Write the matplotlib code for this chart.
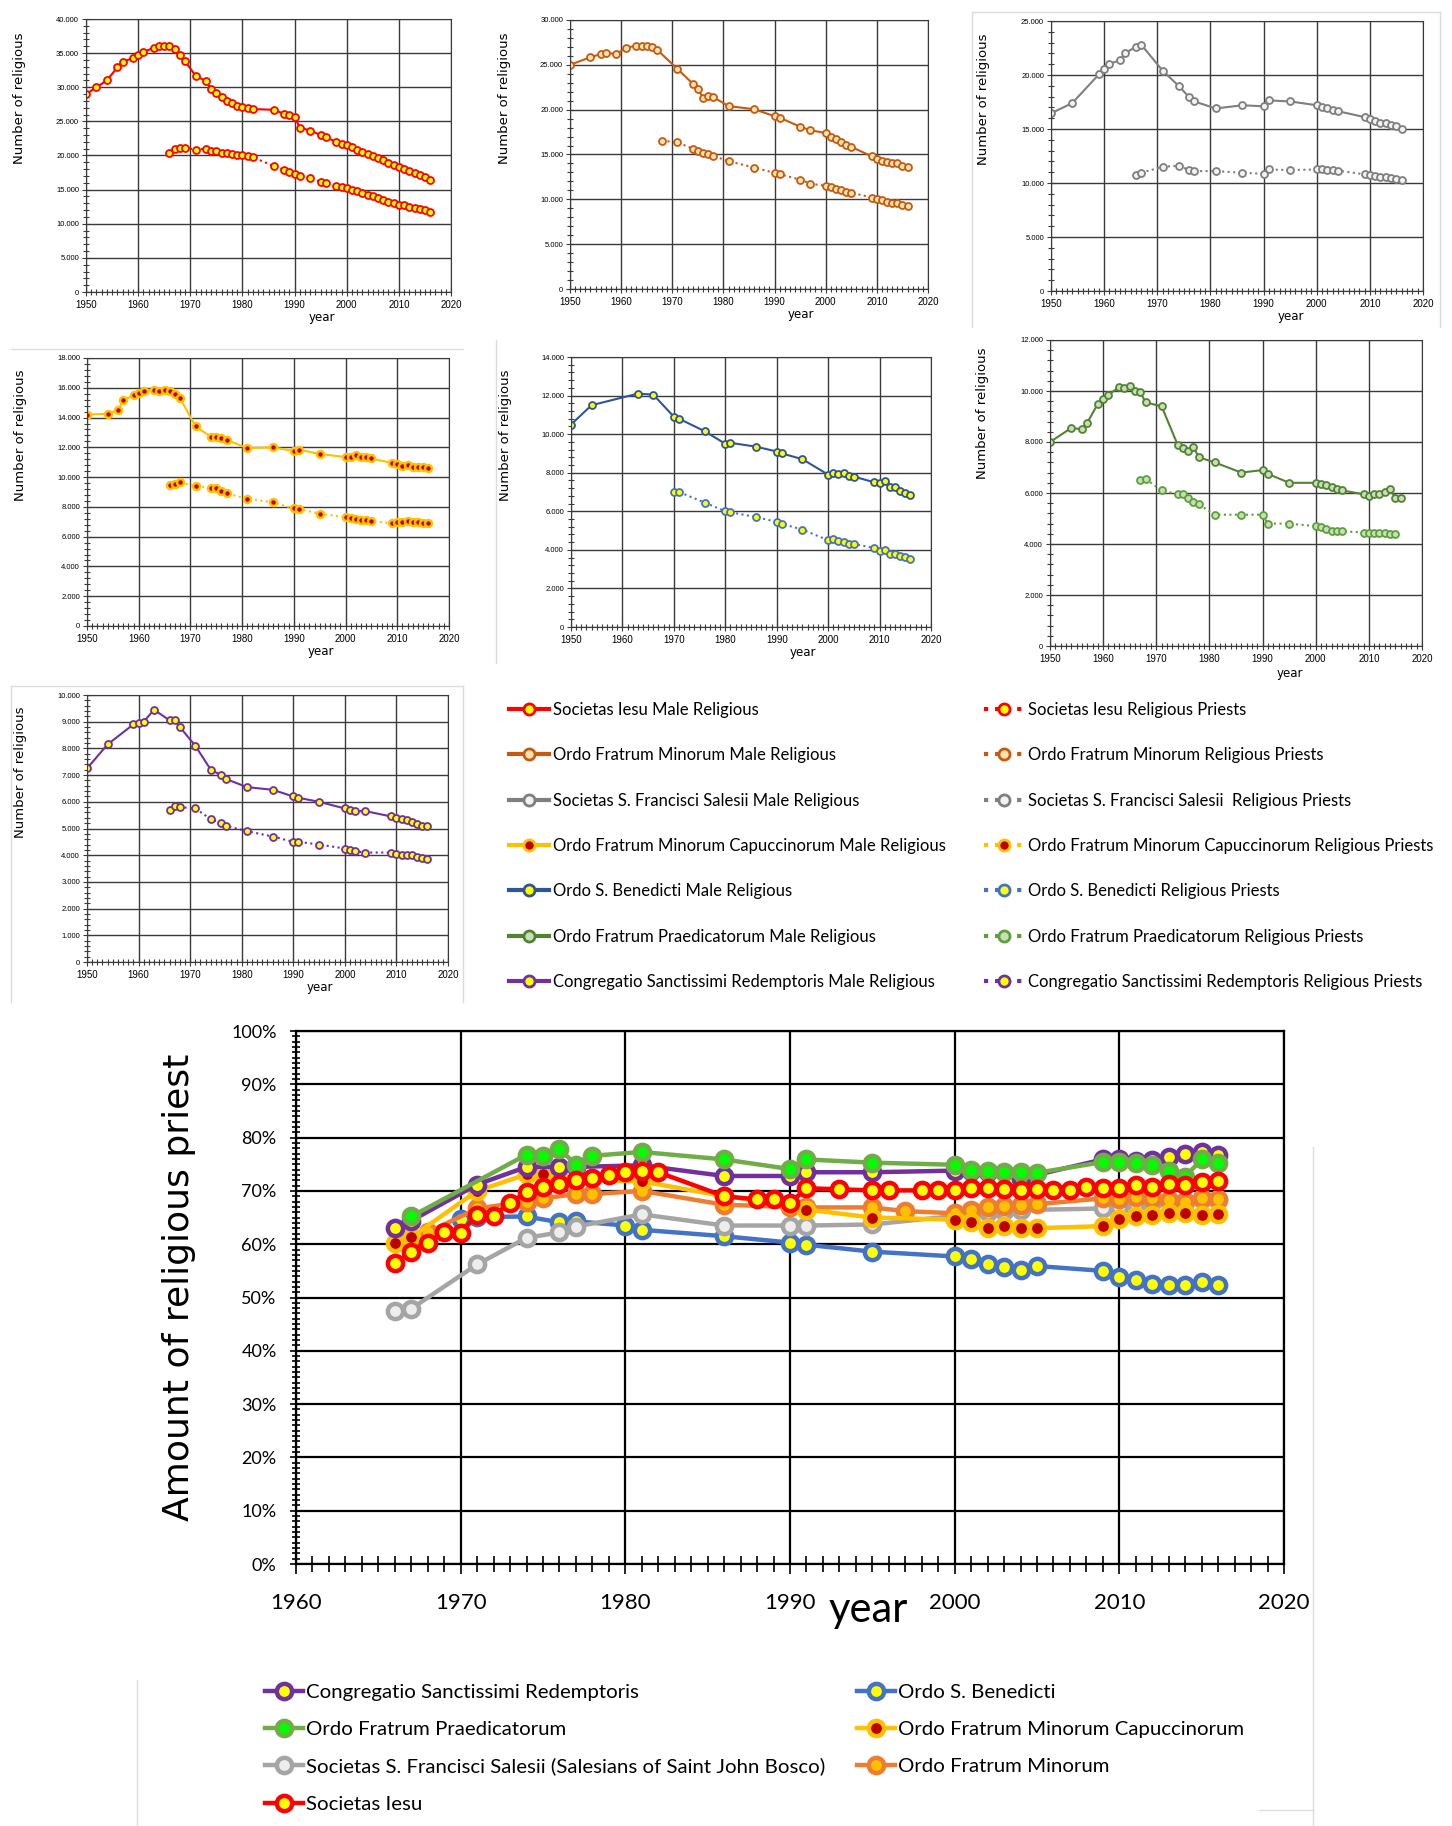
import matplotlib
matplotlib.use('Agg')
import matplotlib.pyplot as plt
from matplotlib.lines import Line2D
from matplotlib.ticker import MultipleLocator, FuncFormatter

# ---------------- data: number of religious (small panels) ----------------
sj_male_years = [1950, 1952, 1954, 1956, 1957, 1959, 1960, 1961, 1963, 1964, 1965, 1966, 1967, 1968, 1969,
                 1971, 1973, 1974, 1975, 1976, 1977, 1978, 1979, 1980, 1981, 1982, 1986, 1988, 1989, 1990,
                 1991, 1993, 1995, 1996, 1998, 1999, 2000, 2001, 2002, 2003, 2004, 2005, 2006, 2007, 2008,
                 2009, 2010, 2011, 2012, 2013, 2014, 2015, 2016]
sj_male = [29000, 30000, 31000, 32900, 33700, 34300, 34750, 35150, 35800, 36000, 36050, 36050, 35600, 34750, 33800,
           31700, 30900, 29700, 29100, 28500, 28000, 27700, 27250, 27100, 26950, 26800, 26700, 26100, 25900, 25650,
           24100, 23650, 23000, 22650, 22000, 21700, 21600, 21250, 20850, 20500, 20250, 19900, 19650, 19300, 18850,
           18650, 18250, 17950, 17700, 17400, 17150, 16900, 16450]
sj_priest_years = [1966, 1967, 1968, 1969, 1971, 1973, 1974, 1975, 1976, 1977, 1978, 1979, 1980, 1981, 1982,
                   1986, 1988, 1989, 1990, 1991, 1993, 1995, 1996, 1998, 1999, 2000, 2001, 2002, 2003, 2004,
                   2005, 2006, 2007, 2008, 2009, 2010, 2011, 2012, 2013, 2014, 2015, 2016]
sj_priest = [20350, 20950, 21100, 21150, 20850, 21000, 20700, 20600, 20400, 20300, 20200, 20000, 20000, 19900, 19750,
             18450, 17900, 17650, 17350, 17050, 16700, 16150, 15900, 15550, 15350, 15200, 15000, 14750, 14450, 14250,
             14050, 13800, 13500, 13250, 13100, 12800, 12700, 12500, 12300, 12150, 12000, 11750]

ofm_male_years = [1950, 1954, 1956, 1957, 1959, 1961, 1963, 1964, 1965, 1966, 1967, 1971, 1974, 1975, 1976,
                  1977, 1978, 1981, 1986, 1990, 1991, 1995, 1997, 2000, 2001, 2002, 2003, 2004, 2005, 2009,
                  2010, 2011, 2012, 2013, 2014, 2015, 2016]
ofm_male = [25000, 25850, 26200, 26350, 26200, 26900, 27150, 27150, 27050, 26950, 26700, 24550, 22900, 22300, 21350,
            21550, 21400, 20400, 20050, 19270, 19100, 18100, 17700, 17400, 17000, 16700, 16350, 16100, 15850, 14800,
            14550, 14300, 14200, 14100, 14100, 13700, 13600]
ofm_priest_years = [1968, 1971, 1974, 1975, 1976, 1977, 1978, 1981, 1986, 1990, 1991, 1995, 1997, 2000, 2001,
                    2002, 2003, 2004, 2005, 2009, 2010, 2011, 2012, 2013, 2014, 2015, 2016]
ofm_priest = [16550, 16350, 15650, 15350, 15200, 15050, 14850, 14250, 13550, 12950, 12800, 12200, 11750, 11500, 11350,
              11200, 11000, 10850, 10750, 10200, 10050, 9900, 9750, 9600, 9550, 9400, 9300]

sdb_male_years = [1950, 1954, 1959, 1960, 1961, 1963, 1964, 1966, 1967, 1971, 1974, 1976, 1977, 1981, 1986,
                  1990, 1991, 1995, 2000, 2001, 2002, 2003, 2004, 2009, 2010, 2011, 2012, 2013, 2014, 2015, 2016]
sdb_male = [16450, 17400, 20050, 20550, 21050, 21350, 22050, 22600, 22800, 20400, 19000, 17950, 17550, 16900, 17200,
            17100, 17650, 17550, 17200, 17050, 16900, 16800, 16650, 16100, 15900, 15750, 15600, 15550, 15350, 15300, 15000]
sdb_priest_years = [1966, 1967, 1971, 1974, 1976, 1977, 1981, 1986, 1990, 1991, 1995, 2000, 2001, 2002, 2003,
                    2004, 2009, 2010, 2011, 2012, 2013, 2014, 2015, 2016]
sdb_priest = [10750, 10950, 11500, 11600, 11200, 11100, 11100, 10950, 10850, 11250, 11200, 11250, 11250, 11200, 11200,
              11150, 10800, 10700, 10650, 10600, 10550, 10500, 10400, 10300]

cap_male_years = [1950, 1954, 1956, 1957, 1959, 1960, 1961, 1963, 1964, 1965, 1966, 1967, 1968, 1971, 1974,
                  1975, 1976, 1977, 1981, 1986, 1990, 1991, 1995, 2000, 2001, 2002, 2003, 2004, 2005, 2009,
                  2010, 2011, 2012, 2013, 2014, 2015, 2016]
cap_male = [14200, 14250, 14500, 15150, 15500, 15650, 15750, 15850, 15750, 15850, 15750, 15600, 15300, 13400, 12700,
            12700, 12650, 12500, 11950, 12000, 11750, 11850, 11550, 11350, 11350, 11500, 11350, 11350, 11250, 10950,
            10850, 10750, 10800, 10700, 10650, 10650, 10600]
cap_priest_years = [1966, 1967, 1968, 1971, 1974, 1975, 1976, 1977, 1981, 1986, 1990, 1991, 1995, 2000, 2001,
                    2002, 2003, 2004, 2005, 2009, 2010, 2011, 2012, 2013, 2014, 2015, 2016]
cap_priest = [9500, 9550, 9650, 9400, 9300, 9300, 9050, 8900, 8550, 8300, 7900, 7850, 7550, 7300, 7250,
              7200, 7150, 7100, 7050, 6900, 7000, 7000, 7050, 7000, 7000, 6950, 6950]

osb_male_years = [1950, 1954, 1963, 1966, 1970, 1971, 1976, 1980, 1981, 1986, 1990, 1991, 1995, 2000, 2001,
                  2002, 2003, 2004, 2005, 2009, 2010, 2011, 2012, 2013, 2014, 2015, 2016]
osb_male = [10500, 11500, 12100, 12050, 10900, 10800, 10150, 9500, 9550, 9350, 9100, 9000, 8700, 7900, 8000,
            7950, 8000, 7850, 7800, 7500, 7450, 7550, 7250, 7250, 7050, 6950, 6850]
osb_priest_years = [1970, 1971, 1976, 1980, 1981, 1986, 1990, 1991, 1995, 2000, 2001, 2002, 2003, 2004, 2005,
                    2009, 2010, 2011, 2012, 2013, 2014, 2015, 2016]
osb_priest = [7000, 7000, 6450, 6000, 5950, 5700, 5450, 5350, 5050, 4500, 4550, 4450, 4400, 4300, 4300,
              4100, 3950, 4000, 3800, 3800, 3700, 3650, 3550]

op_male_years = [1950, 1954, 1956, 1957, 1959, 1960, 1961, 1963, 1964, 1965, 1966, 1967, 1968, 1971, 1974,
                 1975, 1976, 1977, 1978, 1981, 1986, 1990, 1991, 1995, 2000, 2001, 2002, 2003, 2004, 2005,
                 2009, 2010, 2011, 2012, 2013, 2014, 2015, 2016]
op_male = [8000, 8550, 8500, 8750, 9500, 9700, 9850, 10150, 10100, 10200, 10000, 9950, 9550, 9400, 7900,
           7750, 7650, 7800, 7400, 7200, 6800, 6900, 6750, 6400, 6400, 6350, 6300, 6250, 6150, 6100,
           5950, 5900, 5950, 5950, 6050, 6150, 5800, 5800]
op_priest_years = [1967, 1968, 1971, 1974, 1975, 1976, 1977, 1978, 1981, 1986, 1990, 1991, 1995, 2000, 2001,
                   2002, 2003, 2004, 2005, 2009, 2010, 2011, 2012, 2013, 2014, 2015]
op_priest = [6500, 6550, 6100, 5950, 5950, 5800, 5650, 5550, 5150, 5150, 5150, 4800, 4800, 4700, 4650,
             4600, 4500, 4500, 4500, 4450, 4450, 4450, 4450, 4450, 4400, 4400]

cssr_male_years = [1950, 1954, 1959, 1960, 1961, 1963, 1966, 1967, 1968, 1971, 1974, 1976, 1977, 1981, 1986,
                   1990, 1991, 1995, 2000, 2001, 2002, 2004, 2009, 2010, 2011, 2012, 2013, 2014, 2015, 2016]
cssr_male = [7250, 8150, 8900, 8950, 9000, 9450, 9050, 9080, 8800, 8100, 7200, 7000, 6850, 6550, 6450,
             6200, 6150, 6000, 5750, 5700, 5650, 5650, 5450, 5400, 5350, 5300, 5250, 5150, 5100, 5100]
cssr_priest_years = [1966, 1967, 1968, 1971, 1974, 1976, 1977, 1981, 1986, 1990, 1991, 1995, 2000, 2001, 2002,
                     2004, 2009, 2010, 2011, 2012, 2013, 2014, 2015, 2016]
cssr_priest = [5700, 5850, 5800, 5750, 5350, 5200, 5100, 4900, 4700, 4500, 4500, 4400, 4250, 4200, 4150,
               4100, 4100, 4050, 4000, 4000, 4000, 3950, 3900, 3850]

# ---------------- data: share of priests (%) in the big chart ----------------
r_sj_years = [1966, 1967, 1968, 1969, 1970, 1971, 1972, 1973, 1974, 1975, 1976, 1977, 1978, 1979, 1980,
              1981, 1982, 1986, 1988, 1989, 1990, 1991, 1993, 1995, 1996, 1998, 1999, 2000, 2001, 2002,
              2003, 2004, 2005, 2006, 2007, 2008, 2009, 2010, 2011, 2012, 2013, 2014, 2015, 2016]
r_sj = [56.5, 58.5, 60.3, 62.2, 62.1, 65.5, 65.3, 67.8, 69.7, 70.7, 71.3, 72.0, 72.5, 73.0, 73.5,
        73.7, 73.5, 69.0, 68.4, 68.4, 67.7, 70.5, 70.3, 70.1, 70.1, 70.1, 70.1, 70.1, 70.6, 70.5,
        70.3, 70.1, 70.4, 70.1, 70.1, 70.7, 70.5, 70.5, 71.1, 70.8, 71.3, 71.2, 71.6, 71.9]
r_op_years = [1967, 1974, 1975, 1976, 1977, 1978, 1981, 1986, 1990, 1991, 1995, 2000, 2001, 2002, 2003,
              2004, 2005, 2009, 2010, 2011, 2012, 2013, 2014, 2015, 2016]
r_op = [65.2, 76.8, 76.6, 77.9, 74.9, 76.6, 77.3, 75.9, 74.1, 75.9, 75.3, 74.9, 74.0, 73.7, 73.5,
        73.5, 73.4, 75.4, 75.4, 75.3, 74.9, 73.7, 72.7, 75.9, 75.3]
r_cssr_years = [1966, 1967, 1971, 1974, 1976, 1977, 1981, 1986, 1990, 1991, 1995, 2000, 2001, 2002, 2004,
                2009, 2010, 2011, 2012, 2013, 2014, 2015, 2016]
r_cssr = [63.1, 64.4, 71.2, 74.5, 74.5, 74.5, 74.8, 72.8, 72.8, 73.5, 73.5, 73.8, 73.7, 73.5, 72.3,
          75.9, 75.9, 75.6, 75.8, 76.4, 76.9, 77.3, 76.7]
r_cap_years = [1966, 1967, 1971, 1974, 1975, 1976, 1977, 1981, 1986, 1990, 1991, 1995, 2000, 2001, 2002,
               2003, 2004, 2005, 2009, 2010, 2011, 2012, 2013, 2014, 2015, 2016]
r_cap = [60.3, 61.3, 70.0, 73.1, 73.1, 72.3, 72.0, 71.8, 69.0, 67.5, 66.5, 65.0, 64.6, 64.2, 63.0,
         63.4, 63.0, 63.0, 63.4, 64.7, 65.2, 65.5, 65.8, 65.9, 65.5, 65.7]
r_ofm_years = [1968, 1971, 1974, 1975, 1977, 1978, 1981, 1986, 1990, 1991, 1995, 1997, 2000, 2001, 2002,
               2003, 2004, 2005, 2009, 2010, 2011, 2012, 2013, 2014, 2015, 2016]
r_ofm = [62.2, 66.7, 68.0, 68.6, 69.4, 69.4, 70.0, 67.4, 67.0, 66.9, 66.9, 66.2, 65.8, 66.5, 66.9,
         67.2, 67.3, 67.5, 68.6, 68.5, 68.8, 68.7, 68.3, 68.0, 68.7, 68.5]
r_sdb_years = [1966, 1967, 1971, 1974, 1976, 1977, 1981, 1986, 1990, 1991, 1995, 2000, 2001, 2002, 2003,
               2004, 2009, 2010, 2011, 2012, 2013, 2014, 2015, 2016]
r_sdb = [47.5, 47.9, 56.2, 61.2, 62.2, 63.3, 65.6, 63.5, 63.5, 63.5, 63.7, 65.3, 65.8, 66.1, 66.2,
         66.4, 66.7, 67.0, 67.5, 67.9, 68.1, 68.1, 68.4, 68.3]
r_osb_years = [1970, 1971, 1974, 1976, 1977, 1980, 1981, 1986, 1990, 1991, 1995, 2000, 2001, 2002, 2003,
               2004, 2005, 2009, 2010, 2011, 2012, 2013, 2014, 2015, 2016]
r_osb = [64.7, 65.1, 65.2, 64.1, 64.3, 63.5, 62.7, 61.5, 60.3, 59.9, 58.6, 57.7, 57.2, 56.3, 55.7,
         55.1, 55.9, 55.0, 53.9, 53.3, 52.6, 52.4, 52.4, 52.9, 52.4]

# ---------------- styles ----------------
W, H = 1452, 1826
CAL = ['Lato', 'DejaVu Sans']


def box(x0, y0, x1, y1):
    # pixel box (top-left origin) -> figure fraction rect
    return [x0 / W, 1 - y1 / H, (x1 - x0) / W, (y1 - y0) / H]


def sty(line, face, edge=None, ls='-', lw=1.5, ms=5, mew=1.3):
    return dict(color=line, ls=ls, lw=lw, marker='o', ms=ms, mfc=face, mec=edge or line, mew=mew)


s_sj_m = sty('#FF0000', '#FFFF00')
s_sj_p = sty('#FF0000', '#FFFF00', ls=':')
s_ofm_m = sty('#C55A11', '#FCE4B0')
s_ofm_p = sty('#C55A11', '#FCE4B0', ls=':')
s_sdb_m = sty('#7F7F7F', '#F2F2F2')
s_sdb_p = sty('#7F7F7F', '#F2F2F2', ls=':')
s_cap_m = sty('#FFC000', '#C00000', mew=1.8)
s_cap_p = sty('#FFC000', '#C00000', ls=':', mew=1.8)
s_osb_m = sty('#2F5597', '#FFFF00')
s_osb_p = sty('#4472C4', '#FFFF00', ls=':')
s_op_m = sty('#548235', '#C5E0B4')
s_op_p = sty('#5E9E3C', '#C5E0B4', ls=':')
s_cssr_m = sty('#7030A0', '#FFFF00')
s_cssr_p = sty('#7030A0', '#FFFF00', ls=':')

thousands = FuncFormatter(lambda v, p: f'{int(v):,}'.replace(',', '.'))

fig = plt.figure(figsize=(W / 100, H / 100), dpi=100)
fig.patch.set_facecolor('white')


def panel(rect, mx, my, px, py, sm, sp, ymax, ymaj, ymin, lab_y=0.71):
    ax = fig.add_axes(box(*rect))
    ax.plot(mx, my, **sm)
    ax.plot(px, py, **sp)
    ax.set_xlim(1950, 2020)
    ax.set_ylim(0, ymax)
    ax.xaxis.set_major_locator(MultipleLocator(10))
    ax.xaxis.set_minor_locator(MultipleLocator(1))
    ax.yaxis.set_major_locator(MultipleLocator(ymaj))
    ax.yaxis.set_minor_locator(MultipleLocator(ymin))
    ax.yaxis.set_major_formatter(thousands)
    ax.grid(which='major', color='#3a3a3a', lw=1.0)
    ax.set_axisbelow(True)
    for sp_ in ax.spines.values():
        sp_.set_color('#3a3a3a')
    ax.tick_params(which='both', direction='inout', color='#3a3a3a', width=0.8)
    ax.tick_params(which='major', length=6)
    ax.tick_params(which='minor', length=5)
    ax.tick_params(axis='x', labelsize=7, pad=3)
    ax.tick_params(axis='y', labelsize=5.5, pad=2)
    for t in ax.get_xticklabels() + ax.get_yticklabels():
        t.set_family('Liberation Sans')
    ax.set_ylabel('Number of religious', fontsize=9.5, family='DejaVu Sans')
    ax.yaxis.set_label_coords(-0.165, lab_y)
    ax.set_xlabel('year', fontsize=8.5, family='DejaVu Sans')
    ax.xaxis.set_label_coords(0.645, -0.07)
    return ax


panel((86, 19, 451, 292), sj_male_years, sj_male, sj_priest_years, sj_priest, s_sj_m, s_sj_p, 40000, 5000, 1000)
panel((570, 20, 928, 289), ofm_male_years, ofm_male, ofm_priest_years, ofm_priest, s_ofm_m, s_ofm_p, 30000, 5000, 1000)
panel((1051, 21, 1423, 291), sdb_male_years, sdb_male, sdb_priest_years, sdb_priest, s_sdb_m, s_sdb_p, 25000, 5000, 1000)
panel((87, 358, 449, 626), cap_male_years, cap_male, cap_priest_years, cap_priest, s_cap_m, s_cap_p, 18000, 2000, 400)
panel((571, 357, 931, 627), osb_male_years, osb_male, osb_priest_years, osb_priest, s_osb_m, s_osb_p, 14000, 2000, 400)
panel((1050, 340, 1422, 646), op_male_years, op_male, op_priest_years, op_priest, s_op_m, s_op_p, 12000, 2000, 400, 0.76)
panel((87, 695, 448, 962), cssr_male_years, cssr_male, cssr_priest_years, cssr_priest, s_cssr_m, s_cssr_p, 10000, 1000, 200)

# ---------------- legend for the small panels ----------------
orders = ['Societas Iesu', 'Ordo Fratrum Minorum', 'Societas S. Francisci Salesii',
          'Ordo Fratrum Minorum Capuccinorum', 'Ordo S. Benedicti', 'Ordo Fratrum Praedicatorum',
          'Congregatio Sanctissimi Redemptoris']
male_styles = [s_sj_m, s_ofm_m, s_sdb_m, s_cap_m, s_osb_m, s_op_m, s_cssr_m]
priest_styles = [s_sj_p, s_ofm_p, s_sdb_p, s_cap_p, s_osb_p, s_op_p, s_cssr_p]


def leg_handle(s, lw, ms, mew):
    d = dict(s)
    d.update(lw=lw, ms=ms, mew=mew)
    return Line2D([], [], **d)


h_m = [leg_handle(s, 3, 8, 2) for s in male_styles]
h_p = [leg_handle(s, 3, 8, 2) for s in priest_styles]
l_m = [o + ' Male Religious' for o in orders]
l_p = [o + ' Religious Priests' for o in orders]
l_p[2] = 'Societas S. Francisci Salesii  Religious Priests'

for hs, ls_, x0 in [(h_m, l_m, 509), (h_p, l_p, 984)]:
    fig.legend(hs, ls_, loc='upper left', bbox_to_anchor=(x0 / W, 1 - 702 / H),
               frameon=False, ncol=1, borderpad=0, borderaxespad=0, handlelength=2.4,
               handletextpad=0.25, labelspacing=1.76, prop={'family': CAL, 'size': 12})

# ---------------- big chart: share of priests ----------------
ax = fig.add_axes(box(296, 1031, 1284, 1564))
big = [
    ('Ordo S. Benedicti', r_osb_years, r_osb, '#4472C4', '#FFFF00'),
    ('Societas S. Francisci Salesii (Salesians of Saint John Bosco)', r_sdb_years, r_sdb, '#A5A5A5', '#EDEDED'),
    ('Ordo Fratrum Minorum', r_ofm_years, r_ofm, '#ED7D31', '#FFC000'),
    ('Ordo Fratrum Minorum Capuccinorum', r_cap_years, r_cap, '#FFC000', '#C00000'),
    ('Congregatio Sanctissimi Redemptoris', r_cssr_years, r_cssr, '#7030A0', '#FFFF00'),
    ('Ordo Fratrum Praedicatorum', r_op_years, r_op, '#70AD47', '#00FF00'),
    ('Societas Iesu', r_sj_years, r_sj, '#FF0000', '#FFFF00'),
]
handles = {}
for name, xs, ys, c, f in big:
    handles[name], = ax.plot(xs, ys, color=c, lw=3.2, marker='o', ms=11, mfc=f, mec=c, mew=3.2)

ax.set_xlim(1960, 2020)
ax.set_ylim(0, 100)
ax.xaxis.set_major_locator(MultipleLocator(10))
ax.xaxis.set_minor_locator(MultipleLocator(1))
ax.yaxis.set_major_locator(MultipleLocator(10))
ax.yaxis.set_minor_locator(MultipleLocator(1))
ax.yaxis.set_major_formatter(FuncFormatter(lambda v, p: f'{int(round(v))}%'))
ax.grid(which='major', color='black', lw=1.6)
ax.set_axisbelow(True)
for sp_ in ax.spines.values():
    sp_.set_color('black')
    sp_.set_linewidth(1.6)
ax.tick_params(which='both', direction='inout', color='black', width=1.2)
ax.tick_params(axis='x', which='major', length=14, labelsize=16, pad=14)
ax.tick_params(axis='x', which='minor', length=12)
ax.tick_params(axis='y', which='major', length=8, labelsize=13, pad=10)
ax.tick_params(axis='y', which='minor', length=6)
for t in ax.get_xticklabels() + ax.get_yticklabels():
    t.set_family(CAL)
ax.set_ylabel('Amount of religious priest', fontsize=26, family='DejaVu Sans')
ax.yaxis.set_label_coords(-0.101, 0.52)
ax.set_xlabel('year', fontsize=30, family=CAL)
ax.xaxis.set_label_coords(0.579, -0.05)

left_names = ['Congregatio Sanctissimi Redemptoris', 'Ordo Fratrum Praedicatorum',
              'Societas S. Francisci Salesii (Salesians of Saint John Bosco)', 'Societas Iesu']
right_names = ['Ordo S. Benedicti', 'Ordo Fratrum Minorum Capuccinorum', 'Ordo Fratrum Minorum']
for names, x0 in [(left_names, 265), (right_names, 857)]:
    fig.legend([handles[n] for n in names], names, loc='upper left',
               bbox_to_anchor=(x0 / W, 1 - 1683.5 / H), frameon=False, borderpad=0,
               borderaxespad=0, handlelength=1.85, handletextpad=0.15, labelspacing=0.97,
               prop={'family': CAL, 'size': 14.7})

# ---------------- faint frames of the pasted screenshots ----------------
frame_c = '#DCDCDC'
segments = [
    ((972, 12), (1440, 12)), ((972, 12), (972, 327)), ((1440, 12), (1440, 327)),
    ((11, 349), (463, 349)),
    ((496, 340), (496, 663)),
    ((11, 686), (463, 686)), ((11, 686), (11, 1002)), ((463, 686), (463, 1002)),
    ((1313, 1147), (1313, 1826)), ((1259, 1810), (1313, 1810)), ((137, 1680), (137, 1826)),
]
for (xa, ya), (xb, yb) in segments:
    fig.add_artist(Line2D([xa / W, xb / W], [1 - ya / H, 1 - yb / H], color=frame_c, lw=1))

fig.savefig('out.png', dpi=100, facecolor='white')
